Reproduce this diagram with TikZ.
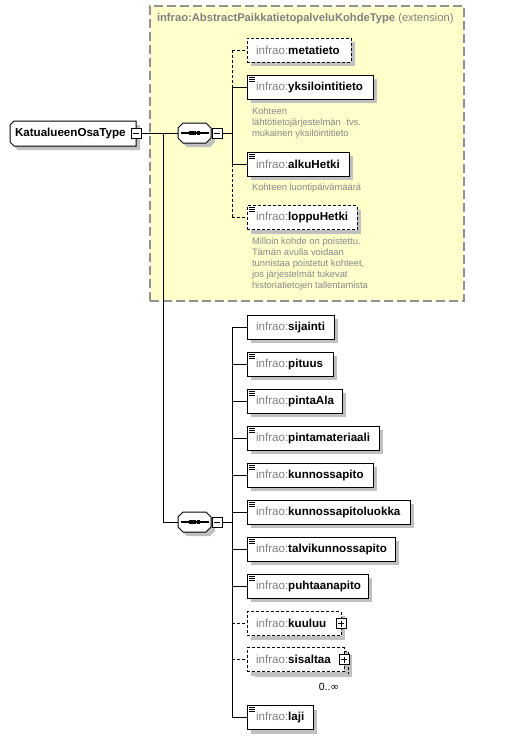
\documentclass[tikz,border=0pt]{standalone}
\usepackage{fontspec}
\setmainfont{Liberation Sans}
\newfontfamily\symfont{DejaVu Sans}
\usetikzlibrary{shadows,calc}
\definecolor{extfill}{RGB}{255,255,204}
\definecolor{extborder}{RGB}{145,145,145}
\definecolor{nsgray}{RGB}{128,128,128}
\definecolor{docgray}{RGB}{136,136,136}
\definecolor{shadowgray}{RGB}{192,192,192}
\newcommand\el[1]{{\color{nsgray}infrao:}\textbf{#1}}
\begin{document}
\begin{tikzpicture}[x=1pt,y=-1pt,
  every node/.style={inner sep=0pt,outer sep=0pt},
  lbl/.style={font=\fontsize{11.6}{13}\selectfont},
  doctext/.style={font=\fontsize{9.4}{11}\selectfont,text=docgray,align=left,anchor=north west},
  shadowed/.style={drop shadow={shadow xshift=4pt,shadow yshift=-4pt,opacity=1,fill=shadowgray}},
  dsh/.style={dash pattern=on 3pt off 2pt},
  conn/.style={line width=1pt},
  elem/.style={draw,line width=1pt,fill=white,shadowed,minimum height=24pt,minimum width=#1,anchor=west},
  optelem/.style={elem=#1,dsh},
  minusbox/.style={draw,fill=white,line width=0.8pt,minimum size=10pt,
    path picture={\draw[line width=0.8pt] ($(path picture bounding box.west)+(2,0)$) -- ($(path picture bounding box.east)+(-2,0)$);}},
  plusbox/.style={minusbox,
    path picture={\draw[line width=0.8pt] ($(path picture bounding box.west)+(2,0)$) -- ($(path picture bounding box.east)+(-2,0)$)
      ($(path picture bounding box.north)+(0,2)$) -- ($(path picture bounding box.south)+(0,-2)$);}},
  ghost/.style={minimum width=#1}
]
\useasboundingbox (0,0) rectangle (507,739);
\newcommand\elnode[5]{\node[#2=#3,label={[lbl,anchor=west,xshift=9pt]west:{\el{#5}}}] (#1) at (247,#4) {};}
\newcommand\docicon[1]{\draw[line width=0.7pt] ($(#1.north west)+(2,2)$) -- ++(6,0) ($(#1.north west)+(2,4)$) -- ++(6,0) ($(#1.north west)+(2,6)$) -- ++(6,0);}
\newcommand\octagon[2]{\draw[line width=1pt,fill=white,shadowed] ($(#1.north west)+(#2,0)$) -- ($(#1.north east)+(-#2,0)$) -- ($(#1.north east)+(0,#2)$) -- ($(#1.south east)+(0,-#2)$) -- ($(#1.south east)+(-#2,0)$) -- ($(#1.south west)+(#2,0)$) -- ($(#1.south west)+(0,-#2)$) -- ($(#1.north west)+(0,#2)$) -- cycle;
  \draw[line width=1.1pt] ($(#1.center)+(-14,0)$) -- ($(#1.center)+(14,0)$);
  \fill ($(#1.center)+(-5.4,-1.6)$) rectangle ($(#1.center)+(-2.0,1.6)$);
  \fill ($(#1.center)+(-1.7,-1.6)$) rectangle ($(#1.center)+(1.7,1.6)$);
  \fill ($(#1.center)+(2.0,-1.6)$) rectangle ($(#1.center)+(5.4,1.6)$);}

% extension box
\node[minimum width=314pt,minimum height=295pt,anchor=north west,draw=extborder,fill=extfill,line width=1.3pt,dash pattern=on 9pt off 4pt] (ext) at (150,6) {};
\node[anchor=west,font=\fontsize{11.2}{13}\selectfont,text=nsgray] (exttitle) at (157,19) {\textbf{infrao:AbstractPaikkatietopalveluKohdeType} (extension)};

% main type
\node[minimum width=126pt,minimum height=25pt,anchor=west] (T) at (10,133.5) {};
\draw[line width=1pt,fill=white,shadowed] ($(T.north west)+(4,0)$) -- (T.north east) -- (T.south east) -- ($(T.south west)+(4,0)$) -- ($(T.south west)+(0,-4)$) -- ($(T.north west)+(0,4)$) -- cycle;
\node[lbl,anchor=west] (Tlabel) at (15,133) {\textbf{KatualueenOsaType}};
\node[minusbox] (Tm) at (136,133) {};

% sequence 1
\node[ghost=33pt,minimum height=20pt] (s1) at (194.5,133) {};
\octagon{s1}{5}
\node[minusbox] (s1m) at (217,133) {};
\coordinate (b1) at (232,133);
\coordinate (tr) at (163,133);

% group 1 elements
\elnode{metatieto}{optelem}{104pt}{50}{metatieto}
\elnode{yksil}{elem}{126pt}{87}{yksilointitieto}
\docicon{yksil}
\elnode{alku}{elem}{102pt}{164}{alkuHetki}
\docicon{alku}
\elnode{loppu}{optelem}{110pt}{217.5}{loppuHetki}
\docicon{loppu}

\node[doctext] (d1) at (252,108) {Kohteen\\lähtötietojärjestelmän\hspace{3pt} tvs.\\mukainen yksilöintitieto};
\node[doctext] (d2) at (252,184) {Kohteen luontipäivämäärä};
\node[doctext] (d3) at (252,238) {Milloin kohde on poistettu.\\Tämän avulla voidaan\\tunnistaa poistetut kohteet,\\jos järjestelmät tukevat\\historiatietojen tallentamista};

% connectors group 1
\draw[conn] (Tm.east) -- (s1.west);
\draw[conn] (s1m.east) -- (b1);
\draw[conn,dsh] (b1 |- metatieto.west) -- (b1 |- yksil.west);
\draw[conn] (b1 |- yksil.west) -- (b1 |- alku.west);
\draw[conn,dsh] (b1 |- alku.west) -- (b1 |- loppu.west);
\draw[conn,dsh] (b1 |- metatieto.west) -- (metatieto.west);
\draw[conn] (b1 |- yksil.west) -- (yksil.west);
\draw[conn] (b1 |- alku.west) -- (alku.west);
\draw[conn,dsh] (b1 |- loppu.west) -- (loppu.west);

% sequence 2
\node[ghost=33pt,minimum height=20pt] (s2) at (194.5,522) {};
\octagon{s2}{5}
\node[minusbox] (s2m) at (217,522) {};
\coordinate (b2) at (232,522);
\draw[conn] (tr) |- (s2.west);
\draw[conn] (s2m.east) -- (b2);

% group 2 elements
\elnode{sijainti}{elem}{87pt}{327}{sijainti}
\elnode{pituus}{elem}{86pt}{364}{pituus}
\docicon{pituus}
\elnode{pintaAla}{elem}{95pt}{401}{pintaAla}
\docicon{pintaAla}
\elnode{pintamat}{elem}{132pt}{438}{pintamateriaali}
\docicon{pintamat}
\elnode{kunn}{elem}{126pt}{475}{kunnossapito}
\docicon{kunn}
\elnode{kunnl}{elem}{163pt}{512}{kunnossapitoluokka}
\docicon{kunnl}
\elnode{talvi}{elem}{148pt}{549}{talvikunnossapito}
\docicon{talvi}
\elnode{puht}{elem}{121pt}{586}{puhtaanapito}
\docicon{puht}
\elnode{kuuluu}{optelem}{94pt}{623.5}{kuuluu}
\node[plusbox] (kuuluup) at (kuuluu.east) {};
\node[draw,dsh,line width=1pt,fill=white,shadowed,minimum width=97pt,minimum height=22pt,anchor=north west] (sisback) at (251,651) {};
\elnode{sis}{optelem}{97pt}{659.5}{sisaltaa}
\node[plusbox] (sisp) at (sis.east) {};
\node[font=\fontsize{10.5}{12}\selectfont,anchor=center] (occ) at (329,687) {0..{\symfont ∞}};
\elnode{laji}{elem}{66pt}{717.5}{laji}
\docicon{laji}

% connectors group 2
\draw[conn] (b2 |- sijainti.west) -- (b2 |- laji.west);
\foreach \n in {sijainti,pituus,pintaAla,pintamat,kunn,kunnl,talvi,puht,laji}
  \draw[conn] (b2 |- \n.west) -- (\n.west);
\draw[conn,dsh] (b2 |- kuuluu.west) -- (kuuluu.west);
\draw[conn,dsh] (b2 |- sis.west) -- (sis.west);
\end{tikzpicture}
\end{document}
